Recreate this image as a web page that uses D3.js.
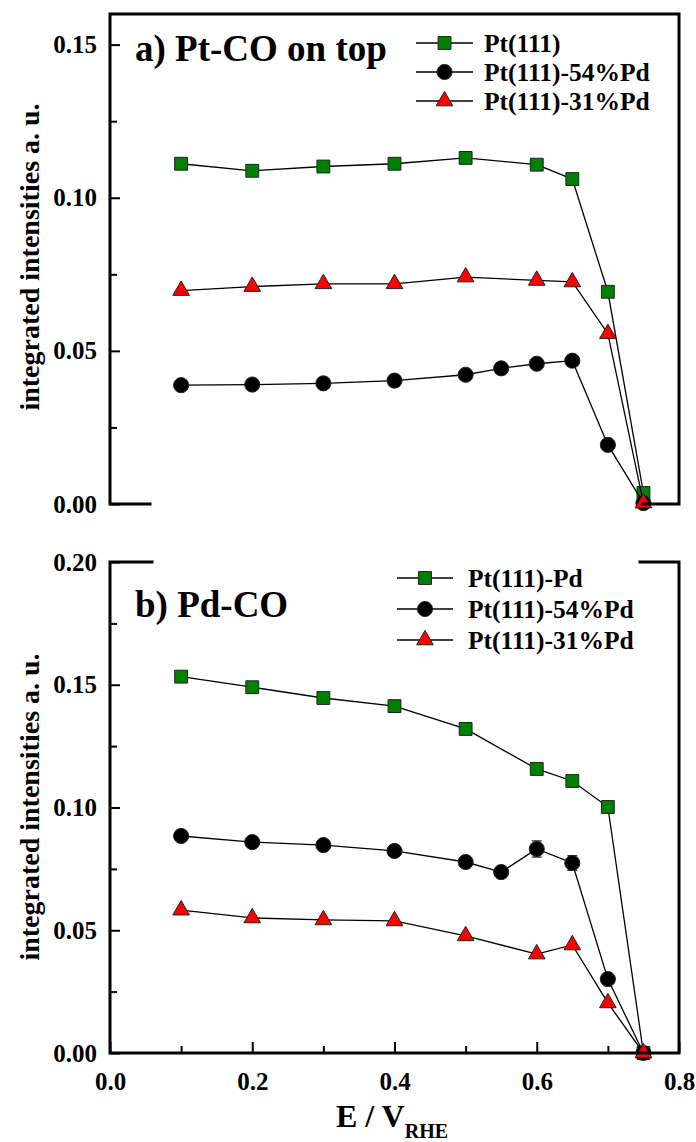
<!DOCTYPE html>
<html>
<head>
<meta charset="utf-8">
<script src="https://cdn.jsdelivr.net/npm/d3@7"></script>
<style>
  body { margin: 0; background: #fff; }
  svg text { font-family: "Liberation Serif", "Times New Roman", serif; font-weight: bold; fill: #000; }
</style>
</head>
<body>
<div id="chart"></div>
<script>
// potentials (E / V_RHE)
const potentials = [0.1, 0.2, 0.3, 0.4, 0.5, 0.6, 0.65, 0.7, 0.75];
const potentials54 = [0.1, 0.2, 0.3, 0.4, 0.5, 0.55, 0.6, 0.65, 0.7, 0.75];

// a) Pt-CO on top
const topPt111 = [0.1111, 0.1088, 0.1102, 0.1111, 0.1130, 0.1108, 0.1061, 0.0693, 0.0036];
const topPd54 = [0.0388, 0.0390, 0.0394, 0.0403, 0.0422, 0.0443, 0.0458, 0.0468, 0.0193, 0.0003];
const topPd31 = [0.0697, 0.0710, 0.0719, 0.0719, 0.0741, 0.0730, 0.0725, 0.0556, 0.0003];

// b) Pd-CO
const botPtPd = [0.1533, 0.1490, 0.1446, 0.1413, 0.1320, 0.1157, 0.1108, 0.1002, 0.0];
const botPd54 = [0.0884, 0.0859, 0.0847, 0.0823, 0.0778, 0.0737, 0.0831, 0.0774, 0.0301, 0.0];
const botPd54Err = [0, 0, 0, 0, 0, 0, 0.0033, 0.0030, 0, 0];
const botPd31 = [0.0582, 0.0550, 0.0542, 0.0538, 0.0477, 0.0403, 0.0440, 0.0204, 0.0];

const xTicks = [0.0, 0.2, 0.4, 0.6, 0.8];
const xMinor = [0.1, 0.3, 0.5, 0.7];
const topTicks = [0.00, 0.05, 0.10, 0.15];
const topMinor = [0.025, 0.075, 0.125];
const botTicks = [0.00, 0.05, 0.10, 0.15, 0.20];
const botMinor = [0.025, 0.075, 0.125, 0.175];

const topLegend = ["Pt(111)", "Pt(111)-54%Pd", "Pt(111)-31%Pd"];
const botLegend = ["Pt(111)-Pd", "Pt(111)-54%Pd", "Pt(111)-31%Pd"];

const W = 696, H = 1142;
const svg = d3.select("#chart").append("svg")
  .attr("width", W)
  .attr("height", H);

let x = d3.scaleLinear().domain([0, 0.8]).range([110, 679]);
let yTop = d3.scaleLinear().domain([0, 0.16]).range([504, 14]);
let yBot = d3.scaleLinear().domain([0, 0.2]).range([1053, 562]);

const green = "#008000", red = "#ff0000";
const styles = [
  {type: d3.symbolSquare, size: 165, fill: green},
  {type: d3.symbolCircle, size: 180, fill: "#000"},
  {type: d3.symbolTriangle, size: 120, fill: red}
];

function yAxis(y, ticks, minor) {
  let g = svg.append("g").attr("transform", "translate(110,0)");
  g.call(d3.axisLeft(y).tickValues(ticks).tickSizeInner(-10).tickSizeOuter(0)
    .tickPadding(13).tickFormat(d3.format(".2f")));
  g.selectAll("text").style("font-size", "25px");
  g.selectAll("line").attr("stroke-width", 2);
  g.select(".domain").remove();
  let m = svg.append("g").attr("transform", "translate(110,0)");
  m.call(d3.axisLeft(y).tickValues(minor).tickSizeInner(-7).tickSizeOuter(0).tickFormat(""));
  m.selectAll("line").attr("stroke-width", 2);
  m.select(".domain").remove();
}

function series(y, xs, vals, st, errs) {
  let line = d3.line().x((d, i) => x(xs[i])).y(d => y(d));
  svg.append("path").datum(vals)
    .attr("d", line)
    .attr("fill", "none")
    .attr("stroke", "#000")
    .attr("stroke-width", 1.3);
  if (errs) {
    errs.forEach((e, i) => {
      if (!e) return;
      let cx = x(xs[i]);
      svg.append("line").attr("x1", cx).attr("x2", cx)
        .attr("y1", y(vals[i] - e)).attr("y2", y(vals[i] + e))
        .attr("stroke", "#333").attr("stroke-width", 1.3);
      [vals[i] - e, vals[i] + e].forEach(v => svg.append("line")
        .attr("x1", cx - 5).attr("x2", cx + 5)
        .attr("y1", y(v)).attr("y2", y(v))
        .attr("stroke", "#333").attr("stroke-width", 1.3));
    });
  }
  svg.selectAll(null).data(vals).enter().append("path")
    .attr("d", d3.symbol().type(st.type).size(st.size))
    .attr("transform", (d, i) => `translate(${x(xs[i])},${y(d)})`)
    .attr("fill", st.fill)
    .attr("stroke", "#222")
    .attr("stroke-width", 1);
}

function legend(names, x0, x1, tx, rows) {
  names.forEach((n, i) => {
    let st = styles[i];
    svg.append("line").attr("x1", x0).attr("x2", x1)
      .attr("y1", rows[i]).attr("y2", rows[i])
      .attr("stroke", "#000").attr("stroke-width", 1.3);
    svg.append("path")
      .attr("d", d3.symbol().type(st.type).size(st.size))
      .attr("transform", `translate(${(x0 + x1) / 2},${rows[i]})`)
      .attr("fill", st.fill).attr("stroke", "#222").attr("stroke-width", 1);
    svg.append("text").attr("x", tx).attr("y", rows[i] + 9)
      .style("font-size", "25.5px").text(n);
  });
}

function frame(segs) {
  segs.forEach(s => svg.append("path")
    .attr("d", d3.line()(s))
    .attr("fill", "none")
    .attr("stroke", "#000")
    .attr("stroke-width", 3)
    .attr("stroke-linecap", "square"));
}

// ---- panel a
yAxis(yTop, topTicks, topMinor);
series(yTop, potentials, topPt111, styles[0]);
series(yTop, potentials54, topPd54, styles[1]);
series(yTop, potentials, topPd31, styles[2]);
frame([
  [[150, 504], [110, 504], [110, 14], [679, 14], [679, 504], [643, 504]]
]);
svg.append("text").attr("x", 135).attr("y", 61).style("font-size", "37px").text("a) Pt-CO on top");
legend(topLegend, 416, 473, 484, [43, 72, 101]);

// ---- panel b
yAxis(yBot, botTicks, botMinor);
let gx = svg.append("g").attr("transform", "translate(0,1053)");
gx.call(d3.axisBottom(x).tickValues(xTicks).tickSizeInner(-11).tickSizeOuter(0)
  .tickPadding(19).tickFormat(d3.format(".1f")));
gx.selectAll("text").style("font-size", "25px");
gx.selectAll("line").attr("stroke-width", 2);
gx.select(".domain").remove();
let gm = svg.append("g").attr("transform", "translate(0,1053)");
gm.call(d3.axisBottom(x).tickValues(xMinor).tickSizeInner(-7).tickSizeOuter(0).tickFormat(""));
gm.selectAll("line").attr("stroke-width", 2);
gm.select(".domain").remove();

series(yBot, potentials, botPtPd, styles[0]);
series(yBot, potentials54, botPd54, styles[1], botPd54Err);
series(yBot, potentials, botPd31, styles[2]);
frame([
  [[152, 562], [110, 562], [110, 1053], [679, 1053], [679, 562], [640, 562]]
]);
svg.append("text").attr("x", 135).attr("y", 617).style("font-size", "37px").text("b) Pd-CO");
legend(botLegend, 397, 453, 468, [578, 609, 640]);

// axis titles
[257, 807].forEach(cy => svg.append("text")
  .attr("transform", `translate(39,${cy}) rotate(-90)`)
  .attr("text-anchor", "middle")
  .style("font-size", "28px")
  .text("integrated intensities a. u."));

let xl = svg.append("text").attr("x", 392).attr("y", 1127)
  .attr("text-anchor", "middle").style("font-size", "32px");
xl.append("tspan").text("E / V");
xl.append("tspan").attr("dy", 11).style("font-size", "20px").text("RHE");
</script>
</body>
</html>
